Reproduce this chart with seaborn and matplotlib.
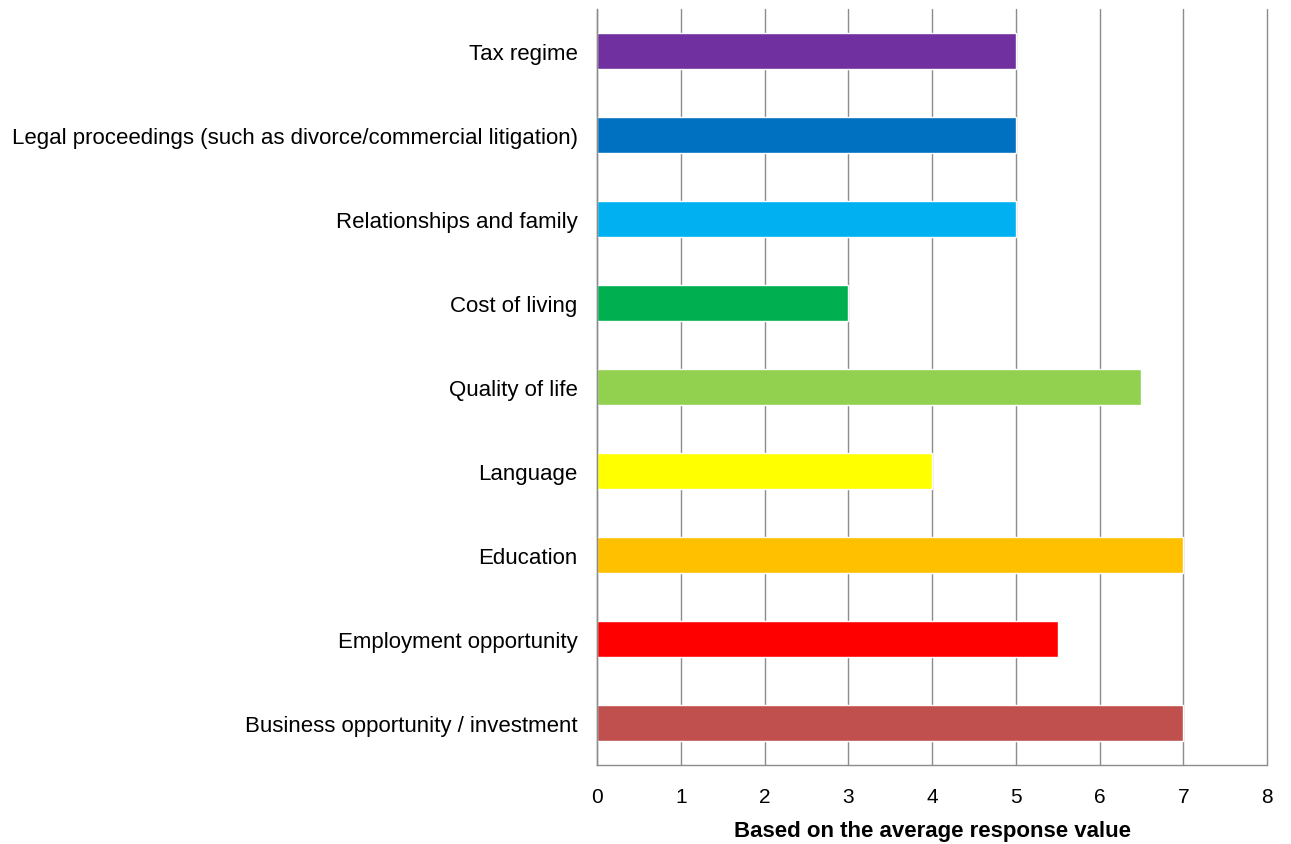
import matplotlib
matplotlib.use("Agg")
import matplotlib.pyplot as plt
from matplotlib.ticker import FixedLocator, NullFormatter
import seaborn as sns
import pandas as pd

categories = [
    "Tax regime",
    "Legal proceedings (such as divorce/commercial litigation)",
    "Relationships and family",
    "Cost of living",
    "Quality of life",
    "Language",
    "Education",
    "Employment opportunity",
    "Business opportunity / investment",
]
values = [5, 5, 5, 3, 6.5, 4, 7, 5.5, 7]
colors = ["#7030A0", "#0070C0", "#00B0F0", "#00B050", "#92D050",
          "#FFFF00", "#FFC000", "#FF0000", "#C0504D"]

sns.set_style("white")
plt.rcParams["font.family"] = ["Liberation Sans", "DejaVu Sans"]

df = pd.DataFrame({"factor": categories, "score": values})

fig = plt.figure(figsize=(12.91, 8.45), dpi=100)
ax = fig.add_axes([597 / 1291, 1 - 766 / 845, 670 / 1291, 756 / 845])

sns.barplot(data=df, y="factor", x="score", hue="factor",
            palette=dict(zip(categories, colors)), order=categories,
            orient="h", width=0.43, legend=False, ax=ax, saturation=1)

ax.set_xlim(0, 8)
ax.set_ylim(len(categories) - 0.5, -0.5)
ax.set_xticks(range(0, 9))
ax.xaxis.grid(True, color="#8c8c8c", linewidth=1)
ax.set_axisbelow(True)
for gl in ax.get_xgridlines():
    gl.set_clip_on(False)

grid_c = "#8c8c8c"
for side in ["top", "right"]:
    ax.spines[side].set_visible(False)
for side in ["left", "bottom"]:
    ax.spines[side].set_color(grid_c)
    ax.spines[side].set_linewidth(1)

ax.tick_params(axis="y", which="major", length=0, pad=14, labelsize=16,
               labelcolor="black")
ax.yaxis.set_minor_locator(FixedLocator([i - 0.5 for i in range(len(categories) + 1)]))
ax.yaxis.set_minor_formatter(NullFormatter())
ax.tick_params(axis="y", which="minor", length=6, width=1, color=grid_c, direction="out")
ax.tick_params(axis="x", which="major", length=5, width=1, color=grid_c,
               labelsize=15, pad=11, labelcolor="black", direction="out")

ax.set_ylabel("")
ax.set_xlabel("Based on the average response value", fontsize=16,
              fontweight="bold", labelpad=10, color="black")

fig.savefig("out.png", dpi=100)
